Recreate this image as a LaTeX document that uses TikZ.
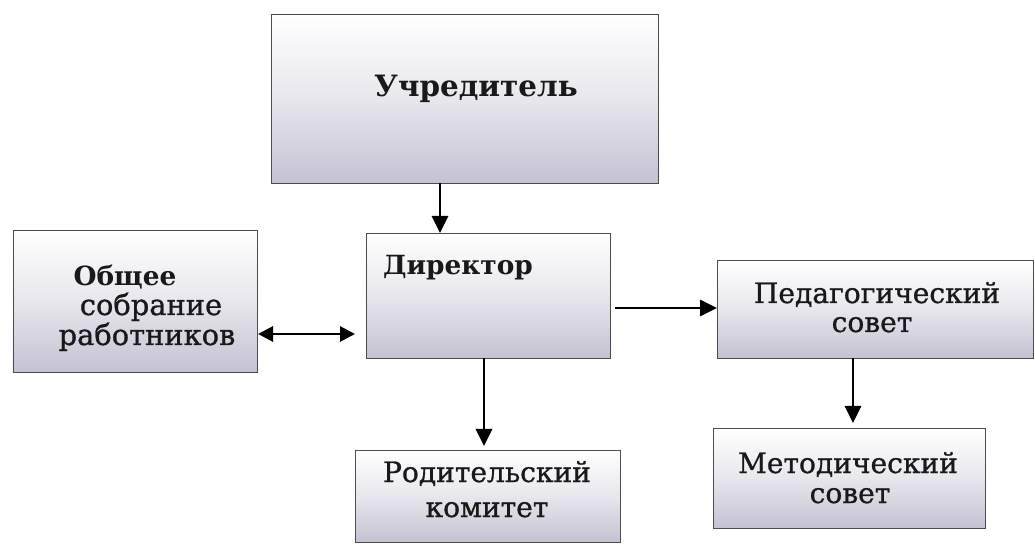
\documentclass[tikz,border=0pt]{standalone}
\usepackage{fontspec}
\setmainfont{DejaVu Serif}[FakeBold=0.9]
\newfontfamily\boldserif{DejaVu Serif Bold}
\usetikzlibrary{arrows.meta}
\definecolor{boxg}{RGB}{196,194,210}
\tikzset{
 box/.style={draw=black!70, line width=0.9bp, inner sep=0pt, outer sep=0pt,
   top color=white, bottom color=boxg, middle color=white!60!boxg},
 lbl/.style={font=\fontsize{28.2}{30}\selectfont, inner sep=0pt, anchor=base, text=black!90},
 blbl/.style={inner sep=0pt, anchor=base, text=black!90},
 arr/.style={line width=2.8bp, -{Triangle[length=17bp,width=16bp]}},
 darr/.style={line width=2.8bp, {Triangle[length=15bp,width=15bp]}-{Triangle[length=15bp,width=15bp]}},
}
\begin{document}
\begin{tikzpicture}[x=1bp,y=-1bp]
\path[use as bounding box] (0,0) rectangle (1035,550);
% boxes
\node[box, minimum width=387bp, minimum height=169bp] (u) at (464.5,98.5) {};
\node[box, minimum width=244bp, minimum height=125bp] (d) at (488,295.5) {};
\node[box, minimum width=244bp, minimum height=142bp] (o) at (135,301) {};
\node[box, minimum width=316bp, minimum height=98bp] (p) at (875,309) {};
\node[box, minimum width=265bp, minimum height=92bp] (r) at (487.5,496) {};
\node[box, minimum width=272bp, minimum height=100bp] (m) at (849,478) {};
% texts
\node[blbl, font=\fontsize{29.5}{31}\selectfont\boldserif] (ut) at (476,97) {Учредитель};
\node[blbl, font=\fontsize{26.5}{31}\selectfont\boldserif] (dt) at (458,275) {Директор};
\node[blbl, font=\fontsize{26.5}{31}\selectfont\boldserif] (o1) at (125,286) {Общее};
\node[lbl, font=\fontsize{29}{31}\selectfont] (o2) at (151,315) {собрание};
\node[lbl, font=\fontsize{29}{31}\selectfont] (o3) at (147,345) {работников};
\node[lbl] (p1) at (877,303) {Педагогический};
\node[lbl] (p2) at (872,332) {совет};
\node[lbl] (r1) at (487,482) {Родительский};
\node[lbl] (r2) at (487,517) {комитет};
\node[lbl] (m1) at (848,473) {Методический};
\node[lbl] (m2) at (850,503) {совет};
% connectors
\coordinate (xud) at (440,0);
\coordinate (ydp) at (0,308);
\coordinate (yod) at (0,334);
\coordinate (xdr) at (484,0);
\coordinate (xpm) at (853,0);
\draw[arr] (u.south -| xud) -- (d.north -| xud);
\draw[darr, shorten <=1bp, shorten >=11bp] (o.east |- yod) -- (d.west |- yod);
\draw[arr, shorten <=5bp] (d.east |- ydp) -- (p.west |- ydp);
\draw[arr, shorten >=4bp] (d.south -| xdr) -- (r.north -| xdr);
\draw[arr, shorten >=5bp] (p.south -| xpm) -- (m.north -| xpm);
\end{tikzpicture}
\end{document}
